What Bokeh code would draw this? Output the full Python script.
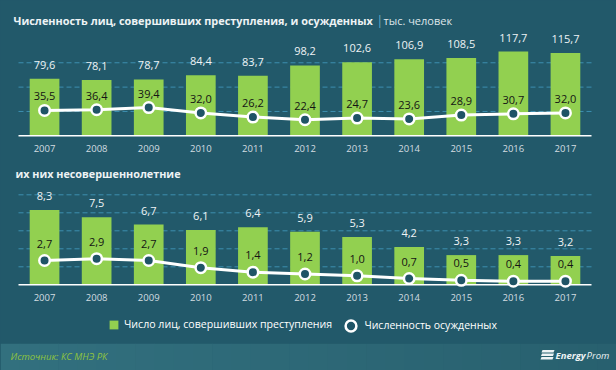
from bokeh.plotting import figure
from bokeh.models import Range1d, ColumnDataSource, Legend, LegendItem, GlobalInlineStyleSheet
from bokeh.core.properties import value
from bokeh.embed import file_html
from bokeh.resources import INLINE

# ---------------- data ----------------
years = [2007, 2008, 2009, 2010, 2011, 2012, 2013, 2014, 2015, 2016, 2017]
year_labels = [str(y) for y in years]
offenders = [79.6, 78.1, 78.7, 84.4, 83.7, 98.2, 102.6, 106.9, 108.5, 117.7, 115.7]
convicted = [35.5, 36.4, 39.4, 32.0, 26.2, 22.4, 24.7, 23.6, 28.9, 30.7, 32.0]
minor_offenders = [8.3, 7.5, 6.7, 6.1, 6.4, 5.9, 5.3, 4.2, 3.3, 3.3, 3.2]
minor_convicted = [2.7, 2.9, 2.7, 1.9, 1.4, 1.2, 1.0, 0.7, 0.5, 0.4, 0.4]
top_grid = [34, 68, 102]
bot_grid = [2, 4, 6, 8, 10]

title_main = "Численность лиц, совершивших преступления, и осужденных"
title_sep = "|"
title_unit = "тыс. человек"
title_minor = "их них несовершеннолетние"
legend_bar = "Число лиц, совершивших преступления"
legend_dot = "Численность осужденных"
source_text = "Источник: КС МНЭ РК"

# ---------------- style / geometry ----------------
W, H = 616, 370
BG = "#22596a"
FOOT_L, FOOT_R = (50, 112, 126), (40, 96, 111)
GREEN = "#92d050"
GRID = "#3d8fb0"
DOT_FILL = "#1f5466"
TXT = "#eef3f5"
FONT = "Open Sans"

X_LEFT, X_RIGHT = 18, 591
ppy = (X_RIGHT - X_LEFT) / len(years)
x_start = years[0] - 0.5 - X_LEFT / ppy
x_end = years[-1] + 0.5 + (W - X_RIGHT) / ppy

TOP_BASE, TOP_SCALE = 135.3, 0.716
BOT_BASE, BOT_SCALE = 284.3, 9.0


def fmt(v):
    return f"{v:.1f}".replace(".", ",")


p = figure(width=W, height=H, x_range=Range1d(x_start, x_end), y_range=Range1d(H, 0),
           x_axis_type=None, y_axis_type=None, min_border=0, toolbar_location=None,
           output_backend="svg", background_fill_color=BG, border_fill_color=BG,
           outline_line_color=None)
p.extra_x_ranges = {"px": Range1d(0, W)}
p.extra_y_ranges = {
    "top": Range1d(-(H - TOP_BASE) / TOP_SCALE, TOP_BASE / TOP_SCALE),
    "bot": Range1d(-(H - BOT_BASE) / BOT_SCALE, BOT_BASE / BOT_SCALE),
}
p.stylesheets = [GlobalInlineStyleSheet(css=f"body{{background:{BG};}}")]

xa, xb = years[0] - 0.5, years[-1] + 0.5


def panel(bars, dots, yr, grid, dot_off):
    src = ColumnDataSource(dict(
        x=years, bar=bars, dot=dots,
        bar_lbl=[fmt(v) for v in bars], dot_lbl=[fmt(v) for v in dots],
        yr=year_labels, zero=[0] * len(years)))
    p.segment(x0=xa, x1=xb, y0=grid, y1=grid, line_color=GRID, line_width=1,
              line_dash="5 3", y_range_name=yr)
    r_bar = p.vbar(x="x", top="bar", bottom=0, width=0.57, fill_color=GREEN,
                   line_color=None, source=src, y_range_name=yr)
    p.segment(x0=xa, x1=xb, y0=0, y1=0, line_color="white", line_width=1.5,
              y_range_name=yr)
    p.line("x", "dot", line_color="white", line_width=3, source=src, y_range_name=yr)
    r_dot = p.scatter("x", "dot", size=10.5, fill_color=DOT_FILL, line_color="white",
                      line_width=2.5, source=src, y_range_name=yr)
    p.text("x", "bar", text="bar_lbl", source=src, y_range_name=yr, y_offset=-14,
           text_align="center", text_baseline="middle", text_color=TXT,
           text_font=value(FONT), text_font_size=value("11px"))
    p.text("x", "dot", text="dot_lbl", source=src, y_range_name=yr, y_offset=-dot_off,
           text_align="center", text_baseline="middle", text_color="#141414",
           text_font=value(FONT), text_font_size=value("11px"))
    p.text("x", "zero", text="yr", source=src, y_range_name=yr, y_offset=13,
           text_align="center", text_baseline="middle", text_color="#d3dde1",
           text_font=value(FONT), text_font_size=value("9.5px"))
    return r_bar, r_dot


r_bar_top, r_dot_top = panel(offenders, convicted, "top", top_grid, 14)
panel(minor_offenders, minor_convicted, "bot", bot_grid, 17)

# titles
p.text(x=[13], y=[20], text=[title_main], x_range_name="px", text_baseline="middle",
       text_color=TXT, text_font=value(FONT), text_font_style="bold",
       text_font_size=value("10.9px"))
p.text(x=[376], y=[19.5], text=[title_sep], x_range_name="px", text_baseline="middle",
       text_color="#6aaed0", text_font=value(FONT), text_font_size=value("12px"))
p.text(x=[383], y=[20], text=[title_unit], x_range_name="px", text_baseline="middle",
       text_color="#dfe7ea", text_font=value(FONT), text_font_size=value("11px"))
p.text(x=[15], y=[173], text=[title_minor], x_range_name="px", text_baseline="middle",
       text_color=TXT, text_font=value(FONT), text_font_style="bold",
       text_font_size=value("10.8px"))

# footer band (horizontal gradient)
n_strips = 32
strip_w = W / n_strips
strip_colors = []
for i in range(n_strips):
    t = i / (n_strips - 1)
    c = tuple(round(a + (b - a) * t) for a, b in zip(FOOT_L, FOOT_R))
    strip_colors.append("#%02x%02x%02x" % c)
p.quad(left=[i * strip_w for i in range(n_strips)],
       right=[(i + 1) * strip_w + 0.5 for i in range(n_strips)],
       top=343.3, bottom=H, x_range_name="px", fill_color=strip_colors, line_color=None)
p.text(x=[10], y=[356], text=[source_text], x_range_name="px", text_baseline="middle",
       text_color="#8fc33f", text_font=value(FONT), text_font_style="italic",
       text_font_size=value("9.5px"))
# logo
p.patches(xs=[[542, 554, 553, 541], [541.5, 553.5, 552.5, 540.5], [541, 553, 552, 540]],
          ys=[[349.5, 349.5, 352, 352], [353, 353, 355.5, 355.5], [356.5, 356.5, 359, 359]],
          x_range_name="px", fill_color="#eef3f5", line_color=None)
p.text(x=[555], y=[355], text=["Energy"], x_range_name="px", text_baseline="middle",
       text_color="#eef3f5", text_font=value(FONT), text_font_style="bold italic",
       text_font_size=value("9.5px"))
p.text(x=[586], y=[355], text=["Prom"], x_range_name="px", text_baseline="middle",
       text_color="#eef3f5", text_font=value(FONT), text_font_style="italic",
       text_font_size=value("9.5px"))

# legends
leg1 = Legend(items=[LegendItem(label=legend_bar, renderers=[r_bar_top])],
              location=(108, 39), orientation="horizontal", glyph_width=11,
              glyph_height=11, label_height=11, label_standoff=5, padding=0,
              margin=0, spacing=0, border_line_color=None, background_fill_alpha=0,
              label_text_color="white", label_text_font=FONT,
              label_text_font_size="10.6px")
leg2 = Legend(items=[LegendItem(label=legend_dot, renderers=[r_dot_top])],
              location=(337.4, 31.2), orientation="horizontal", glyph_width=27,
              glyph_height=27, label_height=27, label_standoff=0, padding=0,
              margin=0, spacing=0, border_line_color=None, background_fill_alpha=0,
              label_text_color="white", label_text_font=FONT,
              label_text_font_size="10.5px")
p.add_layout(leg1)
p.add_layout(leg2)

open("out.html", "w").write(file_html(p, INLINE))
